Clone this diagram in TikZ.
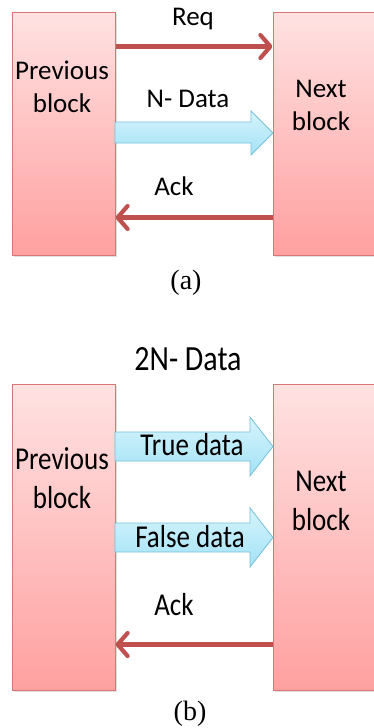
\documentclass[tikz,border=0pt]{standalone}
\usepackage{fontspec}
\setmainfont{Carlito}
\newfontfamily\capfont{Liberation Serif}
\usetikzlibrary{arrows.meta,shadows}
\definecolor{boxtop}{RGB}{255,226,226}
\definecolor{boxbot}{RGB}{255,160,160}
\definecolor{boxline}{RGB}{218,118,118}
\definecolor{redarr}{RGB}{192,80,77}
\definecolor{bluetop}{RGB}{214,244,252}
\definecolor{bluebot}{RGB}{162,226,246}
\definecolor{blueline}{RGB}{118,192,218}
\tikzset{
  x=1pt,y=1pt,
  blockbox/.style={draw=boxline,line width=1pt,top color=boxtop,bottom color=boxbot,
    drop shadow={opacity=0.25,shadow xshift=1.5pt,shadow yshift=-1.5pt}},
  blocktxt/.style={font=\fontsize{27}{33}\selectfont,align=center,inner sep=0pt},
  lbl/.style={font=\fontsize{27}{31}\selectfont,inner sep=0pt,anchor=base},
  tall/.style={yscale=1.18,transform shape},
  sig/.style={draw=redarr,line width=4.2pt,-{Straight Barb[length=10pt,width=23pt,round]}},
  dataarr/.style={draw=blueline,line width=0.8pt,top color=bluetop,bottom color=bluebot},
  captxt/.style={font=\capfont\fontsize{28}{30}\selectfont,inner sep=0pt,anchor=base}
}
\begin{document}
\begin{tikzpicture}
\useasboundingbox (0,0) rectangle (373,-728);
% ---- (a) ----
\node[blockbox,minimum width=103,minimum height=243,inner sep=0pt] (p1) at (63.5,-133.5) {};
\node[blockbox,minimum width=110,minimum height=243,inner sep=0pt] (n1) at (328,-133.5) {};
\node[blocktxt] (p1t) at (62,-87) {Previous\\block};
\node[blocktxt] (n1t) at (321,-105) {Next\\block};
\draw[sig] ([yshift=-35]p1.north east) -- ([yshift=-35]n1.north west);
\node[lbl] (req) at (193,-25) {Req};
\path[dataarr] (115,-122) -- (251,-122) -- (251,-111) -- (273,-133) -- (251,-155) -- (251,-143) -- (115,-143) -- cycle;
\node[lbl] (nd) at (188,-107) {N- Data};
\node[lbl] (ack1) at (174,-195) {Ack};
\draw[sig] ([yshift=-206]n1.north west) -- ([yshift=-206]p1.north east);
\node[captxt] (capa) at (186,-289) {(a)};
% ---- (b) ----
\node[lbl,tall,font=\fontsize{30}{34}\selectfont] (nd2) at (188,-370) {2N- Data};
\node[blockbox,minimum width=103,minimum height=306,inner sep=0pt] (p2) at (63.5,-537) {};
\node[blockbox,minimum width=110,minimum height=306,inner sep=0pt] (n2) at (328,-537) {};
\node[blocktxt,tall] (p2t) at (62,-478) {Previous\\block};
\node[blocktxt,tall] (n2t) at (321,-501) {Next\\block};
\path[dataarr] (115,-432) -- (250,-432) -- (250,-417) -- (273,-446.5) -- (250,-476) -- (250,-461) -- (115,-461) -- cycle;
\node[lbl,tall] (td) at (192,-455) {True data};
\path[dataarr] (115,-523) -- (250,-523) -- (250,-508) -- (273,-537.5) -- (250,-567) -- (250,-552) -- (115,-552) -- cycle;
\node[lbl,tall] (fd) at (190,-547) {False data};
\node[lbl,tall] (ack2) at (174,-615) {Ack};
\draw[sig] ([yshift=-261]n2.north west) -- ([yshift=-261]p2.north east);
\node[captxt] (capb) at (190,-720) {(b)};
\end{tikzpicture}
\end{document}
